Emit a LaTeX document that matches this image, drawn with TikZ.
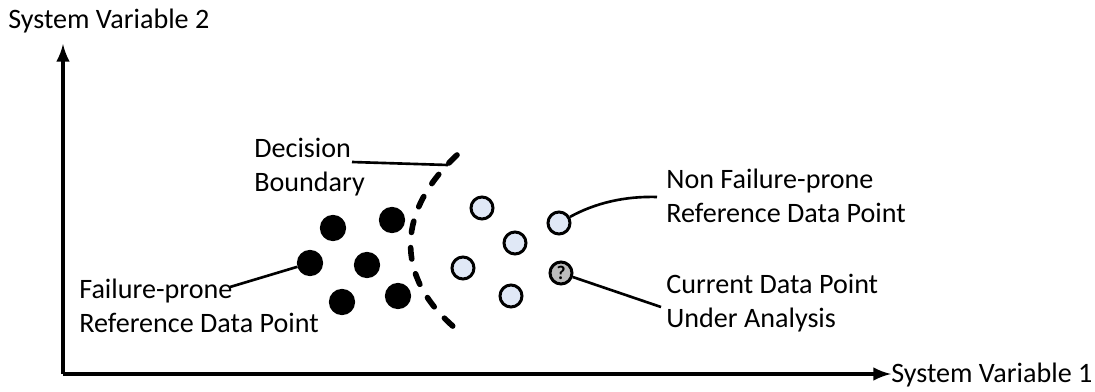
\documentclass[tikz,border=0pt]{standalone}
\usepackage{fontspec}
\setmainfont{Carlito}
\usetikzlibrary{arrows}
\definecolor{pt_light}{RGB}{224, 232, 246}
\definecolor{pt_grey}{RGB}{188, 188, 188}
\tikzstyle{fn}=[circle,fill=black,draw=black,line width=1pt,
  inner sep=0pt,minimum size=0.49cm]
\tikzstyle{nn}=[circle,fill=pt_light,draw=black,line width=1.7pt,
  inner sep=0pt,minimum size=0.44cm]
\tikzstyle{qn}=[circle,fill=pt_grey,draw=black,line width=1.7pt,
  inner sep=0pt,minimum size=0.44cm,font=\fontsize{11}{11}\selectfont\bfseries]
\tikzstyle{lbl}=[inner sep=0pt,align=left,anchor=west,
  font=\fontsize{16}{19}\selectfont]
\tikzstyle{ax}=[line width=2.4pt,-latex]
\tikzstyle{lead}=[line width=1.5pt]
\tikzstyle{bound}=[line width=3.2pt,line cap=round,dash pattern=on 6.5pt off 8.7pt]

\begin{document}
\begin{tikzpicture}[x=0.02cm,y=-0.02cm]
        \useasboundingbox (0,0) rectangle (1095,392);
        % axes
        \coordinate (o) at (63,374);
        \coordinate (ytip) at (63,44);
        \coordinate (xtip) at (891,374);
        \draw[ax] (o) to (ytip);
        \draw[ax] (o) to (xtip);
        \node[lbl] (sv2) at (8,21) {System Variable 2};
        \node[lbl] (sv1) at (891,375) {System Variable 1};
        % failure-prone points
        \node[style=fn] (f1) at (333,228) {};
        \node[style=fn] (f2) at (392,220) {};
        \node[style=fn] (f3) at (310,263) {};
        \node[style=fn] (f4) at (367,265) {};
        \node[style=fn] (f5) at (342,302) {};
        \node[style=fn] (f6) at (398,296) {};
        % non failure-prone points
        \node[style=nn] (n1) at (482,208) {};
        \node[style=nn] (n2) at (515,243) {};
        \node[style=nn] (n3) at (463,268) {};
        \node[style=nn] (n4) at (511,296) {};
        \node[style=nn] (n5) at (559,223) {};
        \node[style=qn] (q) at (561,273) {?};
        % decision boundary
        \draw[bound] (457,155) .. controls (398,210) and (393,275) .. (455,328);
        % labels
        \node[lbl] (db) at (254,167) {Decision\\Boundary};
        \node[lbl] (fp) at (79,306) {Failure-prone\\Reference Data Point};
        \node[lbl] (nfp) at (666,196) {Non Failure-prone\\Reference Data Point};
        \node[lbl] (cur) at (666,303) {Current Data Point\\Under Analysis};
        \coordinate (db1) at (352,162);
        \coordinate (db2) at (448,165);
        \coordinate (fp1) at (230,287);
        \coordinate (nfp1) at (657,197);
        \coordinate (cur1) at (661,307);
        \draw[lead] (db1) to (db2);
        \draw[lead] (fp1) to (f3);
        \draw[lead] (n5) .. controls (595,203) and (625,196) .. (nfp1);
        \draw[lead] (q) to (cur1);
    \end{tikzpicture}
\end{document}
